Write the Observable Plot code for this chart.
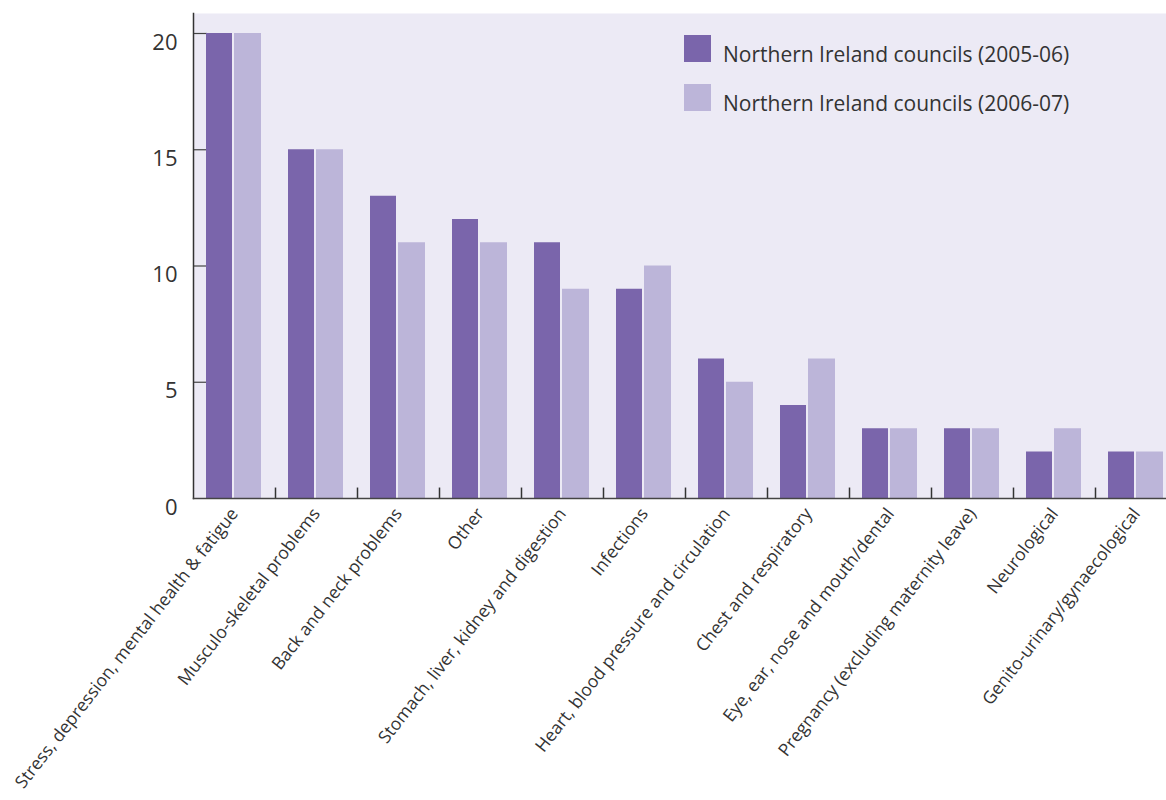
<!DOCTYPE html>
<html><head><meta charset="utf-8">
<script src="https://cdn.jsdelivr.net/npm/d3@7"></script>
<script src="https://cdn.jsdelivr.net/npm/@observablehq/plot@0.6"></script>
<style>
body{margin:0;background:#fff;font-family:"Open Sans",sans-serif;}
#wrap{position:relative;width:1166px;height:800px;overflow:hidden;}
.legend{position:absolute;left:684px;top:35px;}
.item{display:flex;align-items:flex-end;height:27px;margin-bottom:22px;}
.sw{width:27px;height:27px;margin-right:12px;}
.lab{font-size:21px;color:#333;line-height:21px;margin-bottom:-3px;white-space:nowrap;}
</style>
</head><body><div id="wrap"></div>
<script>
const categories = [
  "Stress, depression, mental health & fatigue",
  "Musculo-skeletal problems",
  "Back and neck problems",
  "Other",
  "Stomach, liver, kidney and digestion",
  "Infections",
  "Heart, blood pressure and circulation",
  "Chest and respiratory",
  "Eye, ear, nose and mouth/dental",
  "Pregnancy (excluding maternity leave)",
  "Neurological",
  "Genito-urinary/gynaecological"
];
const values2005 = [20, 15, 13, 12, 11, 9, 6, 4, 3, 3, 2, 2];
const values2006 = [20, 15, 11, 11, 9, 10, 5, 6, 3, 3, 3, 2];
const seriesNames = ["Northern Ireland councils (2005-06)", "Northern Ireland councils (2006-07)"];
const yTicks = [0, 5, 10, 15, 20];
const colors = ["#7A65AB", "#BCB5D9"];

const data05 = categories.map((c, i) => ({category: c, value: values2005[i]}));
const data06 = categories.map((c, i) => ({category: c, value: values2006[i]}));

const plot = Plot.plot({
  width: 1166, height: 800,
  marginLeft: 193, marginRight: 0, marginTop: 13, marginBottom: 302,
  x: {domain: categories, range: [193, 193 + 82 * 12], padding: 0, label: null},
  y: {domain: [0, 20], range: [498, 33], label: null},
  style: {fontFamily: "Open Sans", color: "#333", background: "transparent"},
  marks: [
    Plot.frame({fill: "#ECEAF5", stroke: "none"}),
    Plot.tickY(yTicks.slice(1), {y: d => d, x: () => categories[0], insetRight: 68, stroke: "#444", strokeWidth: 1.2}),
    Plot.barY(data05, {x: "category", y: "value", fill: colors[0], insetLeft: 13, insetRight: 43}),
    Plot.barY(data06, {x: "category", y: "value", fill: colors[1], insetLeft: 41, insetRight: 14}),
    Plot.ruleX(categories.slice(1), {x: d => d, dx: -41, y1: 0, y2: 0.45, stroke: "#333", strokeWidth: 1.5}),
    Plot.frame({anchor: "left", stroke: "#333", strokeWidth: 1.5}),
    Plot.frame({anchor: "bottom", stroke: "#444", strokeWidth: 1.5}),
    Plot.axisY({ticks: yTicks, tickSize: 0, tickPadding: 16, fontSize: 22, dy: 9, label: null}),
    Plot.axisX({tickSize: 0, tickRotate: -52, fontSize: 17.5, tickPadding: 12, label: null})
  ]
});
const wrap = document.getElementById("wrap");
wrap.appendChild(plot);
const legend = document.createElement("div");
legend.className = "legend";
seriesNames.forEach((name, i) => {
  const item = document.createElement("div");
  item.className = "item";
  const sw = document.createElement("div");
  sw.className = "sw";
  sw.style.background = colors[i];
  const lab = document.createElement("div");
  lab.className = "lab";
  lab.textContent = name;
  item.appendChild(sw); item.appendChild(lab);
  legend.appendChild(item);
});
wrap.appendChild(legend);
</script>
</body></html>
